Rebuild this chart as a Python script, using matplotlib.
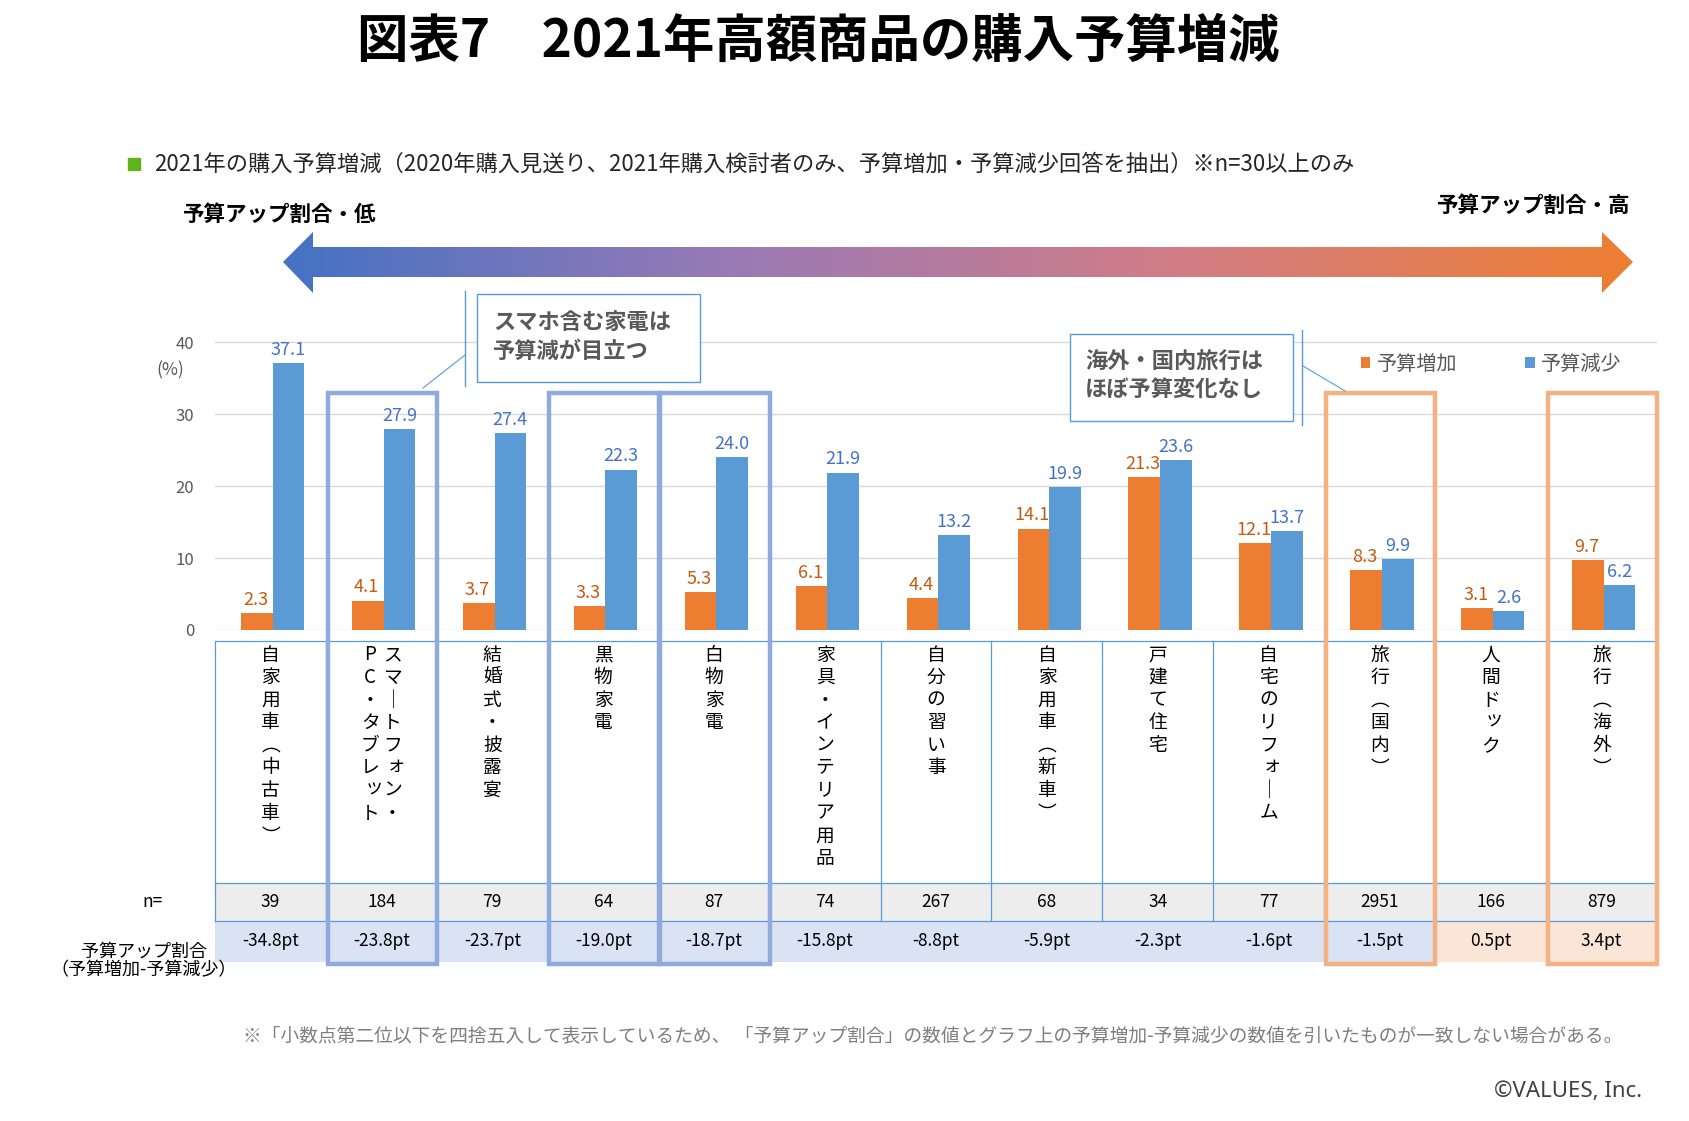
import numpy as np
import matplotlib.pyplot as plt
import matplotlib.transforms as mtransforms
from matplotlib.patches import Rectangle, Polygon
from matplotlib.colors import LinearSegmentedColormap

plt.rcParams['font.family'] = ['Noto Sans CJK JP', 'DejaVu Sans']

# データ
categories = ["自家用車（中古車）", "スマートフォン・\nPC・タブレット", "結婚式・披露宴", "黒物家電",
              "白物家電", "家具・インテリア用品", "自分の習い事", "自家用車（新車）", "戸建て住宅",
              "自宅のリフォーム", "旅行（国内）", "人間ドック", "旅行（海外）"]
increase = [2.3, 4.1, 3.7, 3.3, 5.3, 6.1, 4.4, 14.1, 21.3, 12.1, 8.3, 3.1, 9.7]
decrease = [37.1, 27.9, 27.4, 22.3, 24.0, 21.9, 13.2, 19.9, 23.6, 13.7, 9.9, 2.6, 6.2]
n_values = [39, 184, 79, 64, 87, 74, 267, 68, 34, 77, 2951, 166, 879]
diff_pt = [-34.8, -23.8, -23.7, -19.0, -18.7, -15.8, -8.8, -5.9, -2.3, -1.6, -1.5, 0.5, 3.4]
blue_boxes = [1, 3, 4]
orange_boxes = [10, 12]
yticks = [0, 10, 20, 30, 40]
series_names = ["予算増加", "予算減少"]

ORANGE, BLUE = '#ed7d31', '#5b9bd5'
GRAY = '#595959'

W, H = 1689, 1121
fig = plt.figure(figsize=(W / 100, H / 100), dpi=100)

# 棒グラフ (x: 215..1657px, 0 at y=630px, 10 = 71.9px)
ymax = 41
top_px = 630 - ymax * 7.19
ax = fig.add_axes([215 / W, 1 - 630 / H, (1657 - 215) / W, (630 - top_px) / H])
x = np.arange(len(categories))
w = 0.285
b1 = ax.bar(x - w / 2 + 0.02, increase, w, color=ORANGE, label=series_names[0])
b2 = ax.bar(x + w / 2 + 0.02, decrease, w, color=BLUE, label=series_names[1])
for xi, v in zip(x, increase):
    ax.annotate(f"{v:.1f}", (xi - w / 2 + 0.02, v), xytext=(-1, 3), textcoords='offset points',
                ha='center', va='bottom', color='#c55a11', fontsize=13)
for xi, v in zip(x, decrease):
    ax.annotate(f"{v:.1f}", (xi + w / 2 + 0.02, v), xytext=(0, 3), textcoords='offset points',
                ha='center', va='bottom', color='#4472c4', fontsize=13)
ax.set_xlim(-0.5, len(categories) - 0.5)
ax.set_ylim(0, ymax)
ax.set_yticks(yticks)
ax.set_xticks([])
ax.grid(axis='y', color='#d9d9d9', lw=1)
ax.set_axisbelow(True)
for s in ax.spines.values():
    s.set_visible(False)
ax.tick_params(length=0, labelcolor=GRAY, labelsize=12, pad=15)

# 装飾用オーバーレイ (ピクセル座標)
ov = fig.add_axes([0, 0, 1, 1], zorder=5)
ov.set_xlim(0, W)
ov.set_ylim(H, 0)
ov.axis('off')
ov.patch.set_alpha(0)
trans = mtransforms.blended_transform_factory(ax.transData, ov.transData)

ov.text(818, 41, "図表7　2021年高額商品の購入予算増減", ha='center', va='center',
        fontsize=37, fontweight='bold', color='black')
ov.add_patch(Rectangle((128, 158), 12, 12, color='#5fb41e'))
ov.text(154, 164, "2021年の購入予算増減（2020年購入見送り、2021年購入検討者のみ、予算増加・予算減少回答を抽出）※n=30以上のみ",
        ha='left', va='center', fontsize=16, color='#262626')
ov.text(183, 214, "予算アップ割合・低", ha='left', va='center', fontsize=15.5, fontweight='bold')
ov.text(1630, 205, "予算アップ割合・高", ha='right', va='center', fontsize=15.5, fontweight='bold')

# グラデーション矢印
arrow = Polygon([(283, 262), (313, 232), (313, 247), (1602, 247), (1602, 232), (1633, 262),
                 (1602, 293), (1602, 277), (313, 277), (313, 293)], closed=True,
                facecolor='none', edgecolor='none')
ov.add_patch(arrow)
cmap = LinearSegmentedColormap.from_list('arr', ['#4472c4', '#9a7ab5', '#d27d85', '#ed7d31'])
grad = ov.imshow(np.linspace(0, 1, 256)[None, :], cmap=cmap, aspect='auto',
                 extent=[283, 1633, 293, 232], zorder=2)
grad.set_clip_path(arrow)
ov.set_xlim(0, W)
ov.set_ylim(H, 0)

ov.text(170, 370, "(%)", ha='center', va='center', color=GRAY, fontsize=12.5)

# 表
line_c = BLUE
for i in range(len(categories)):
    ov.add_patch(Rectangle((i - 0.5, 883), 1, 38, facecolor='#ededed', edgecolor='none',
                           transform=trans, zorder=1))
    ov.add_patch(Rectangle((i - 0.5, 921), 1, 41,
                           facecolor='#fbe5d6' if diff_pt[i] > 0 else '#dae3f3',
                           edgecolor='none', transform=trans, zorder=1))
    ov.text(i, 902, f"{n_values[i]}", ha='center', va='center', fontsize=12.5, transform=trans)
    ov.text(i, 941.5, f"{diff_pt[i]:.1f}pt", ha='center', va='center', fontsize=12.5,
            transform=trans)
for yy in [641, 883, 921]:
    ov.plot([-0.5, len(categories) - 0.5], [yy, yy], color=line_c, lw=0.9, transform=trans, zorder=3)
for i in range(len(categories) + 1):
    ov.plot([i - 0.5, i - 0.5], [641, 921], color=line_c, lw=0.9, transform=trans, zorder=3)

vmap = {'（': '︵', '）': '︶', 'ー': '｜'}
small = set('ッォャュョァィゥェ')
for i, lab in enumerate(categories):
    cols = lab.split("\n")
    for j, col in enumerate(cols):
        cx = i + ((len(cols) - 1) / 2 - j) * 0.2
        for k, ch in enumerate(col):
            dx, dy = (0.03, -3) if ch in small else (0, 0)
            ov.text(cx + dx, 655 + k * 22.6 + dy, vmap.get(ch, ch), ha='center', va='center',
                    fontsize=13.5, transform=trans)

ov.text(163, 902, "n=", ha='right', va='center', fontsize=12.5)
ov.text(144, 961, "予算アップ割合\n（予算増加-予算減少）", ha='center', va='center',
        fontsize=13, linespacing=1.1)

# 強調枠
for i in blue_boxes:
    ov.add_patch(Rectangle((i - 0.485, 393), 0.985, 571, fill=False, edgecolor='#8faadc',
                           lw=3.2, transform=trans, zorder=4))
for i in orange_boxes:
    ov.add_patch(Rectangle((i - 0.485, 393), 0.985, 571, fill=False, edgecolor='#f4b183',
                           lw=3.2, transform=trans, zorder=4))

# 吹き出し
ov.add_patch(Rectangle((477, 294), 223, 88, facecolor='white', edgecolor=BLUE, lw=1, zorder=4))
ov.plot([465, 465], [291, 386], color=BLUE, lw=1, zorder=4)
ov.plot([465, 423], [355, 388], color=BLUE, lw=0.8, zorder=4)
ov.text(493, 322, "スマホ含む家電は", ha='left', va='center', fontsize=16, fontweight='bold',
        color=GRAY, zorder=5)
ov.text(493, 351, "予算減が目立つ", ha='left', va='center', fontsize=16, fontweight='bold',
        color=GRAY, zorder=5)

ov.add_patch(Rectangle((1070, 334), 223, 87, facecolor='white', edgecolor=BLUE, lw=1, zorder=4))
ov.plot([1302, 1302], [330, 425], color=BLUE, lw=1, zorder=4)
ov.plot([1303, 1345], [366, 391], color=BLUE, lw=0.8, zorder=4)
ov.text(1085, 362, "海外・国内旅行は", ha='left', va='center', fontsize=16, fontweight='bold',
        color=GRAY, zorder=5)
ov.text(1085, 390, "ほぼ予算変化なし", ha='left', va='center', fontsize=16, fontweight='bold',
        color=GRAY, zorder=5)

# 凡例
leg = ax.legend([b1, b2], series_names, loc='center left', ncol=2, frameon=False,
                bbox_to_anchor=(1361 / W, 1 - 364 / H), bbox_transform=fig.transFigure,
                fontsize=14.5, handlelength=0.47, handleheight=0.47, handletextpad=0.3,
                columnspacing=3.4, borderpad=0, borderaxespad=0, labelcolor=GRAY)

ov.text(243, 1036, "※「小数点第二位以下を四捨五入して表示しているため、 「予算アップ割合」の数値とグラフ上の予算増加-予算減少の数値を引いたものが一致しない場合がある。",
        ha='left', va='center', fontsize=13.5, color='#7f7f7f')
ov.text(1642, 1091, "©VALUES, Inc.", ha='right', va='center', fontsize=16, color='#404040',
        family=['Noto Sans', 'DejaVu Sans'])

fig.savefig('out.png', dpi=100)
